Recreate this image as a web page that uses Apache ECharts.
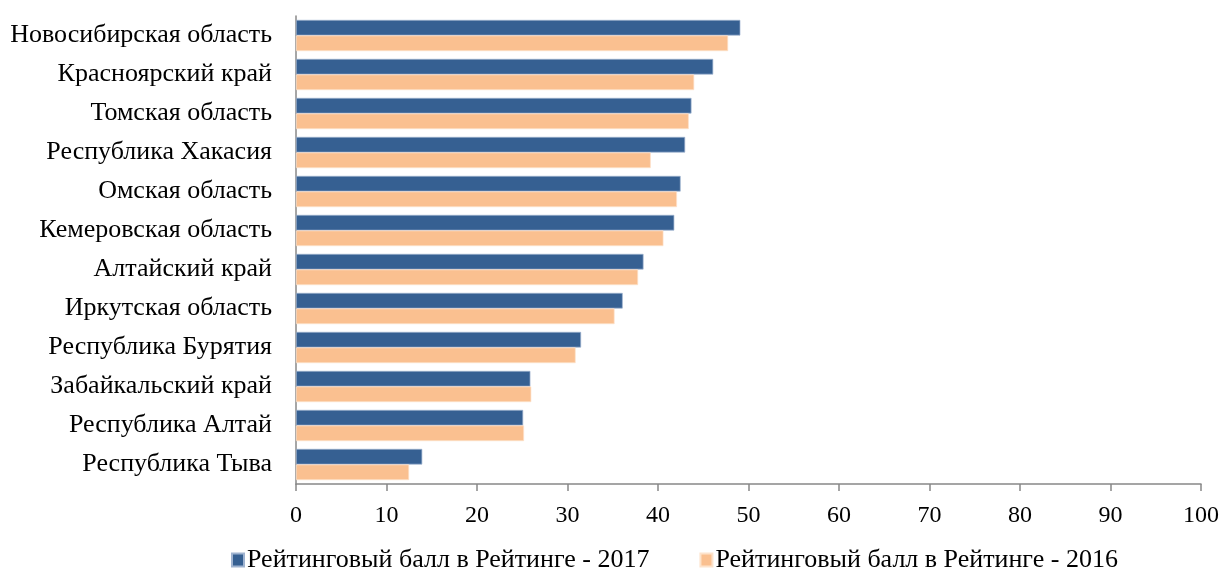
<!DOCTYPE html>
<html>
<head>
<meta charset="utf-8">
<script src="https://cdn.jsdelivr.net/npm/echarts@6/dist/echarts.min.js"></script>
<style>
  html, body { margin: 0; padding: 0; background: #fff; }
  #chart { width: 1222px; height: 568px; }
</style>
</head>
<body>
<div id="chart"></div>
<script>
// регионы сверху вниз
const regions = ['Новосибирская область', 'Красноярский край', 'Томская область', 'Республика Хакасия',
  'Омская область', 'Кемеровская область', 'Алтайский край', 'Иркутская область',
  'Республика Бурятия', 'Забайкальский край', 'Республика Алтай', 'Республика Тыва']
const score2017 = [49.1, 46.1, 43.7, 43.0, 42.5, 41.8, 38.4, 36.1, 31.5, 25.9, 25.1, 13.95]
const score2016 = [47.75, 44.0, 43.4, 39.2, 42.1, 40.6, 37.8, 35.2, 30.9, 26.0, 25.2, 12.5]
const seriesNames = ['Рейтинговый балл в Рейтинге - 2017', 'Рейтинговый балл в Рейтинге - 2016']

const mychart = echarts.init(document.getElementById('chart'))
const font = '"Liberation Serif", "Times New Roman", serif'

const option = {
  animation: false,
  color: ['#366092', '#FAC090'],
  textStyle: { fontFamily: font },
  grid: { left: 296, right: 21, top: 16, height: 468 },
  legend: {
    top: 542,
    left: 226,
    itemWidth: 12,
    itemHeight: 13,
    itemGap: 50,
    icon: 'rect',
    textStyle: { fontFamily: font, fontSize: 26, color: '#000', padding: [0, 0, 0, -2] },
    data: seriesNames
  },
  xAxis: {
    type: 'value',
    min: 0,
    max: 100,
    interval: 10,
    splitLine: { show: false },
    axisLine: { show: true, lineStyle: { color: '#888', width: 1.5 } },
    axisTick: { show: true, length: 7, lineStyle: { color: '#888', width: 1.5 } },
    axisLabel: { color: '#000', fontSize: 24, fontFamily: font, margin: 20 }
  },
  yAxis: {
    type: 'category',
    inverse: true,
    data: regions,
    axisLine: { show: true, lineStyle: { color: '#888', width: 1.5 } },
    axisTick: { show: false },
    axisLabel: { color: '#000', fontSize: 26, fontFamily: font, margin: 24, padding: [5, 0, 0, 0] }
  },
  series: [
    {
      name: seriesNames[0],
      type: 'bar',
      data: score2017,
      barGap: '0%',
      barCategoryGap: '20%',
      itemStyle: { borderColor: '#9fb3d0', borderWidth: 0.7 }
    },
    {
      name: seriesNames[1],
      type: 'bar',
      data: score2016,
      barGap: '0%',
      barCategoryGap: '20%',
      itemStyle: { borderColor: '#fde3cc', borderWidth: 0.7 }
    }
  ]
}
mychart.setOption(option, true)
</script>
</body>
</html>
